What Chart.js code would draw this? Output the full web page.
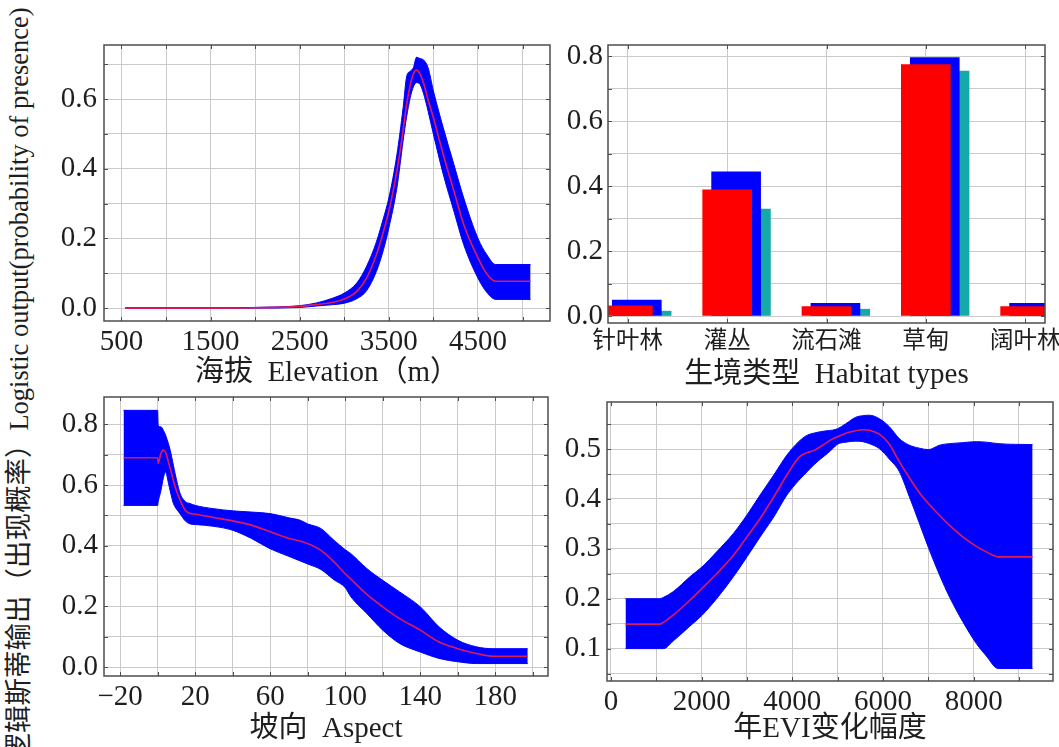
<!DOCTYPE html>
<html>
<head>
<meta charset="utf-8">
<script src="https://cdn.jsdelivr.net/npm/chart.js@4.4.1/dist/chart.umd.min.js"></script>
<style>
  html, body { margin: 0; padding: 0; background: #fff; }
  #page { position: relative; width: 1059px; height: 747px; overflow: hidden; background: #fff; }
  canvas { position: absolute; }
  #ytitle { position: absolute; left: 18px; top: 384px; transform: translate(-50%, -50%) rotate(-90deg);
            white-space: nowrap; color: #1e1e1e; line-height: 1; }
  #ytitle .zh { font-family: "Noto Sans CJK SC", sans-serif; font-size: 27.5px; }
  #ytitle .en { font-family: "Liberation Serif", serif; font-size: 26.5px; }
</style>
</head>
<body>
<div id="page">
  <div id="ytitle"><span class="zh">逻辑斯蒂输出（出现概率）</span><span class="en">Logistic output(probability of presence)</span></div>
  <canvas id="cElev" width="560" height="395" style="left:30px;top:0px"></canvas>
  <canvas id="cHab" width="530" height="395" style="left:555px;top:0px"></canvas>
  <canvas id="cAsp" width="560" height="397" style="left:30px;top:350px"></canvas>
  <canvas id="cEvi" width="530" height="397" style="left:555px;top:350px"></canvas>
</div>
<script>
// ---------------- data ----------------
// Panel 1: elevation response (m)
const elevX    = [540, 1000, 1500, 2000, 2500, 2690, 2875, 3000, 3140, 3250, 3360, 3440, 3500, 3590, 3660, 3700, 3740, 3775, 3810, 3850, 3890, 3940, 4000, 4110, 4230, 4340, 4500, 4600, 4700, 5090];
const elevMid  = [0, 0, 0, 0.001, 0.005, 0.01, 0.017, 0.026, 0.048, 0.086, 0.153, 0.22, 0.278, 0.393, 0.51, 0.585, 0.64, 0.672, 0.683, 0.672, 0.645, 0.598, 0.546, 0.441, 0.336, 0.24, 0.144, 0.098, 0.077, 0.077];
const elevHigh = [0.001, 0.001, 0.001, 0.002, 0.007, 0.015, 0.029, 0.043, 0.072, 0.12, 0.19, 0.259, 0.316, 0.44, 0.575, 0.665, 0.68, 0.69, 0.72, 0.716, 0.712, 0.69, 0.623, 0.518, 0.412, 0.316, 0.2, 0.153, 0.125, 0.125];
const elevLow  = [0, 0, 0, 0, 0.002, 0.006, 0.01, 0.014, 0.027, 0.05, 0.105, 0.168, 0.23, 0.345, 0.48, 0.55, 0.604, 0.635, 0.647, 0.642, 0.615, 0.565, 0.499, 0.384, 0.278, 0.182, 0.086, 0.045, 0.025, 0.025];
const elevXGrid   = [500, 1000, 1500, 2000, 2500, 3000, 3500, 4000, 4500, 5000];
const elevXLabels = [500, 1500, 2500, 3500, 4500];
const elevYGrid   = [0, 0.1, 0.2, 0.3, 0.4, 0.5, 0.6, 0.7];
const elevYLabels = [0, 0.2, 0.4, 0.6];

// Panel 2: habitat types
const habitatTypes = ['针叶林', '灌丛', '流石滩', '草甸', '阔叶林'];
const habitatRed   = [0.031, 0.388, 0.029, 0.774, 0.029];
const habitatBlue  = [0.049, 0.444, 0.039, 0.795, 0.039];
const habitatTeal  = [0.015, 0.329, 0.021, 0.754, 0.021];
const habitatYGrid   = [0, 0.1, 0.2, 0.3, 0.4, 0.5, 0.6, 0.7, 0.8];
const habitatYLabels = [0, 0.2, 0.4, 0.6, 0.8];

// Panel 3: aspect
const aspectX    = [-18.2, 0, 0.3, 1.7, 3.1, 4.2, 5.8, 6.7, 8.4, 9.3, 12, 14.7, 17.3, 20, 30, 40, 50, 60, 70, 76, 80, 87, 94, 100, 103, 111.5, 120, 129, 140, 150, 160, 170, 178.8, 197.3];
const aspectMid  = [0.69, 0.69, 0.672, 0.704, 0.715, 0.708, 0.675, 0.654, 0.615, 0.594, 0.55, 0.517, 0.506, 0.504, 0.493, 0.482, 0.468, 0.446, 0.424, 0.416, 0.407, 0.385, 0.347, 0.308, 0.29, 0.24, 0.199, 0.16, 0.122, 0.083, 0.061, 0.045, 0.036, 0.036];
const aspectHigh = [0.846, 0.846, 0.797, 0.792, 0.78, 0.765, 0.735, 0.715, 0.665, 0.638, 0.572, 0.546, 0.539, 0.533, 0.522, 0.515, 0.511, 0.506, 0.492, 0.484, 0.472, 0.457, 0.418, 0.387, 0.374, 0.325, 0.286, 0.248, 0.199, 0.133, 0.089, 0.067, 0.061, 0.061];
const aspectLow  = [0.533, 0.533, 0.545, 0.58, 0.625, 0.643, 0.605, 0.58, 0.539, 0.528, 0.505, 0.482, 0.472, 0.47, 0.464, 0.451, 0.424, 0.39, 0.365, 0.35, 0.34, 0.322, 0.288, 0.262, 0.232, 0.177, 0.122, 0.078, 0.05, 0.029, 0.018, 0.012, 0.012, 0.012];
const aspectXGrid   = [-20, 0, 20, 40, 60, 80, 100, 120, 140, 160, 180, 200];
const aspectXLabels = [-20, 20, 60, 100, 140, 180];
const aspectYGrid   = [0, 0.1, 0.2, 0.3, 0.4, 0.5, 0.6, 0.7, 0.8];
const aspectYLabels = [0, 0.2, 0.4, 0.6, 0.8];

// Panel 4: annual EVI range
const eviX    = [320, 1074, 1163, 1370, 1740, 2010, 2330, 2700, 3000, 3290, 3590, 3880, 4140, 4330, 4470, 4620, 4770, 4880, 5000, 5180, 5400, 5550, 5700, 5920, 6140, 6360, 6580, 6800, 7000, 7250, 7470, 7760, 8060, 8280, 8540, 9300];
const eviMid  = [0.149, 0.149, 0.153, 0.167, 0.197, 0.221, 0.25, 0.287, 0.324, 0.361, 0.404, 0.448, 0.483, 0.493, 0.497, 0.505, 0.514, 0.52, 0.525, 0.532, 0.537, 0.539, 0.538, 0.53, 0.51, 0.475, 0.443, 0.413, 0.391, 0.367, 0.347, 0.324, 0.305, 0.294, 0.284, 0.284];
const eviHigh = [0.2, 0.2, 0.203, 0.214, 0.244, 0.264, 0.294, 0.331, 0.368, 0.408, 0.448, 0.488, 0.515, 0.528, 0.532, 0.535, 0.537, 0.538, 0.541, 0.551, 0.564, 0.567, 0.568, 0.561, 0.545, 0.521, 0.508, 0.502, 0.499, 0.508, 0.511, 0.513, 0.515, 0.514, 0.511, 0.509];
const eviLow  = [0.1, 0.1, 0.1, 0.115, 0.145, 0.167, 0.2, 0.244, 0.284, 0.324, 0.364, 0.408, 0.437, 0.455, 0.468, 0.48, 0.491, 0.5, 0.51, 0.514, 0.516, 0.515, 0.511, 0.501, 0.48, 0.455, 0.405, 0.352, 0.303, 0.247, 0.203, 0.154, 0.11, 0.085, 0.06, 0.06];
const eviXGrid   = [0, 1000, 2000, 3000, 4000, 5000, 6000, 7000, 8000, 9000];
const eviXLabels = [0, 2000, 4000, 6000, 8000];
const eviYGrid   = [0.05, 0.1, 0.15, 0.2, 0.25, 0.3, 0.35, 0.4, 0.45, 0.5, 0.55];
const eviYLabels = [0.1, 0.2, 0.3, 0.4, 0.5];

// ---------------- styling ----------------
const SERIF = '"Liberation Serif", "Noto Sans CJK SC", serif';
const INK = '#1e1e1e';
const GRIDC = '#cacaca';
const FRAME = '#4d4d4d';
const BLUE = '#0000ff';
const RED = '#e0195a';
const BAR_RED = '#ff0000';
const TEAL = '#16a9a9';
const BAR_SHIFT_BLUE = 0.09;
const BAR_SHIFT_TEAL = 0.385;

const hasVal = (list, v) => list.some(a => Math.abs(a - v) < 1e-6);
const setTicks = list => scale => { scale.ticks = list.map(v => ({ value: v })); };
const num = v => (v < 0 ? '\u2212' + Math.abs(v) : String(v));

function linearAxis(o) {
  return {
    type: 'linear', min: o.min, max: o.max, offset: false,
    afterBuildTicks: setTicks(o.grid),
    afterFit: o.axis === 'x' ? (s => { s.height = o.size; }) : (s => { s.width = o.size; }),
    ticks: {
      autoSkip: false, maxRotation: 0, minRotation: 0, padding: o.pad, color: INK,
      font: { family: SERIF, size: o.fontSize || 29 }, callback: o.label
    },
    grid: { color: GRIDC, lineWidth: 1, drawTicks: false, offset: false },
    border: { display: false },
    title: o.title
      ? { display: true, text: o.title, color: INK, font: { family: SERIF, size: 29 }, padding: { top: 0, bottom: o.titlePad } }
      : { display: false }
  };
}

const framePlugin = {
  id: 'frame',
  afterDatasetsDraw(chart) {
    const { ctx, chartArea: a, scales } = chart;
    const xs = scales.x, ys = scales.y, t = 4;
    ctx.save();
    ctx.strokeStyle = FRAME;
    ctx.lineWidth = 1;
    ctx.beginPath();
    xs.ticks.forEach(tk => {
      const p = Math.round(xs.getPixelForValue(tk.value)) + 0.5;
      if (p < a.left || p > a.right) return;
      ctx.moveTo(p, a.bottom); ctx.lineTo(p, a.bottom - t);
      ctx.moveTo(p, a.top); ctx.lineTo(p, a.top + t);
    });
    ys.ticks.forEach(tk => {
      const p = Math.round(ys.getPixelForValue(tk.value)) + 0.5;
      if (p < a.top || p > a.bottom) return;
      ctx.moveTo(a.left, p); ctx.lineTo(a.left + t, p);
      ctx.moveTo(a.right, p); ctx.lineTo(a.right - t, p);
    });
    ctx.stroke();
    ctx.lineWidth = 1.5;
    ctx.strokeRect(a.left, a.top, a.right - a.left, a.bottom - a.top);
    ctx.restore();
  }
};

function baseOptions(pad, scales) {
  return {
    responsive: false, animation: false, devicePixelRatio: 1, events: [],
    layout: { padding: pad },
    plugins: { legend: { display: false }, tooltip: { enabled: false } },
    scales
  };
}

function bandChart(id, xs, low, mid, high, pad, scales) {
  const pts = arr => xs.map((x, i) => ({ x, y: arr[i] }));
  return new Chart(document.getElementById(id), {
    type: 'line',
    data: {
      datasets: [
        { data: pts(mid), borderColor: RED, borderWidth: 1.6, pointRadius: 0, fill: false, cubicInterpolationMode: 'monotone' },
        { data: pts(high), borderColor: BLUE, backgroundColor: BLUE, borderWidth: 1, pointRadius: 0, fill: '+1', cubicInterpolationMode: 'monotone' },
        { data: pts(low), borderColor: BLUE, borderWidth: 1, pointRadius: 0, fill: false, cubicInterpolationMode: 'monotone' }
      ]
    },
    options: baseOptions(pad, scales),
    plugins: [framePlugin]
  });
}

// ---------------- Panel 1 ----------------
bandChart('cElev', elevX, elevLow, elevMid, elevHigh,
  { left: 0, top: 45, right: 40, bottom: 0 },
  {
    x: linearAxis({ axis: 'x', min: 304, max: 5308, grid: elevXGrid, size: 74, pad: 4,
      label: v => hasVal(elevXLabels, v) ? num(v) : '', title: '海拔  Elevation（m）', titlePad: 4 }),
    y: linearAxis({ axis: 'y', min: -0.037, max: 0.755, grid: elevYGrid, size: 74, pad: 7,
      label: v => hasVal(elevYLabels, v) ? v.toFixed(1) : '' })
  });

// ---------------- Panel 2 ----------------
const catIdx = [0, 1, 2, 3, 4];
const hiddenX = (min, max) => ({ type: 'linear', display: false, min, max, offset: false,
  afterBuildTicks: setTicks(catIdx), grid: { offset: false } });
const barSet = (vals, axis, color, w) => ({
  data: vals.map((y, i) => ({ x: i, y })), xAxisID: axis, backgroundColor: color,
  grouped: false, barThickness: w, maxBarThickness: w, barPercentage: 1, categoryPercentage: 1, borderWidth: 0, clip: 0
});
new Chart(document.getElementById('cHab'), {
  type: 'bar',
  data: {
    datasets: [
      barSet(habitatRed, 'x', BAR_RED, 49),
      barSet(habitatBlue, 'xBlue', BLUE, 49),
      barSet(habitatTeal, 'xTeal', TEAL, 10)
    ]
  },
  options: baseOptions({ left: 0, top: 45, right: 40, bottom: 0 }, {
    x: linearAxis({ axis: 'x', min: -0.2, max: 4.2, grid: catIdx, size: 72, pad: 5, fontSize: 23.5,
      label: v => habitatTypes[Math.round(v)] || '', title: '生境类型  Habitat types', titlePad: 2 }),
    xBlue: hiddenX(-0.2 - BAR_SHIFT_BLUE, 4.2 - BAR_SHIFT_BLUE),
    xTeal: hiddenX(-0.2 - BAR_SHIFT_TEAL, 4.2 - BAR_SHIFT_TEAL),
    y: linearAxis({ axis: 'y', min: -0.0215, max: 0.834, grid: habitatYGrid, size: 53, pad: 5,
      label: v => hasVal(habitatYLabels, v) ? v.toFixed(1) : '' })
  }),
  plugins: [framePlugin]
});

// ---------------- Panel 3 ----------------
bandChart('cAsp', aspectX, aspectLow, aspectMid, aspectHigh,
  { left: 0, top: 47, right: 42, bottom: 0 },
  {
    x: linearAxis({ axis: 'x', min: -28.6, max: 208.1, grid: aspectXGrid, size: 71, pad: 4,
      label: v => hasVal(aspectXLabels, v) ? num(v) : '', title: '坡向  Aspect', titlePad: 0 }),
    y: linearAxis({ axis: 'y', min: -0.029, max: 0.89, grid: aspectYGrid, size: 74, pad: 6,
      label: v => hasVal(aspectYLabels, v) ? v.toFixed(1) : '' })
  });

// ---------------- Panel 4 ----------------
bandChart('cEvi', eviX, eviLow, eviMid, eviHigh,
  { left: 0, top: 52, right: 32, bottom: 0 },
  {
    x: linearAxis({ axis: 'x', min: -88, max: 9750, grid: eviXGrid, size: 66, pad: 4,
      label: v => hasVal(eviXLabels, v) ? num(v) : '', title: '年EVI变化幅度', titlePad: 0 }),
    y: linearAxis({ axis: 'y', min: 0.035, max: 0.5945, grid: eviYGrid, size: 52, pad: 6,
      label: v => hasVal(eviYLabels, v) ? v.toFixed(1) : '' })
  });
</script>
</body>
</html>
